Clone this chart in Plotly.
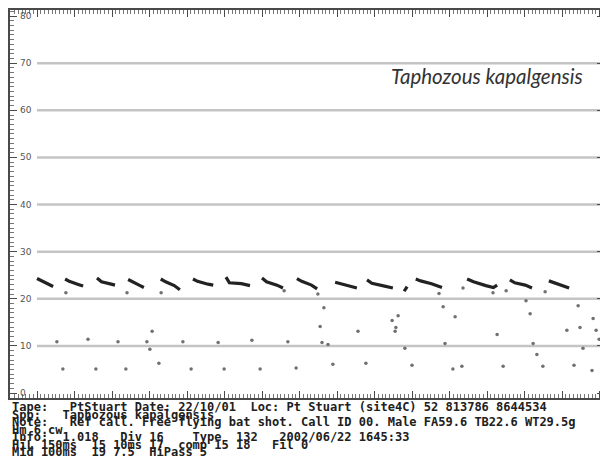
import plotly.graph_objects as go

# Anabat style call display: time (ms, compressed) vs frequency (kHz)

# pulse traces, one list of vertices per call
call_times = [
    [0.0, 1.2, 3.3, 4.3],
    [7.5, 8.6, 11.2, 12.3],
    [16.0, 17.2, 19.8, 20.8],
    [24.3, 25.4, 27.5, 28.5],
    [33.0, 34.3, 36.6, 38.1],
    [41.6, 42.8, 45.6, 47.0],
    [50.4, 51.3, 54.5, 56.8],
    [60.0, 61.2, 64.0, 65.6],
    [69.3, 70.6, 73.2, 74.7],
    [79.5, 81.0, 83.8, 85.3],
    [88.0, 89.3, 92.7, 94.9],
    [97.9, 98.7],
    [101.0, 102.3, 105.2, 108.0],
    [114.7, 116.4, 119.7, 121.7, 122.7],
    [126.1, 127.4, 130.2, 132.0],
    [136.5, 137.8, 140.4, 141.9],
]
call_freqs = [
    [24.3, 23.8, 23.0, 22.6],
    [24.2, 23.7, 23.0, 22.7],
    [24.4, 23.6, 23.1, 22.9],
    [24.1, 23.6, 22.8, 22.4],
    [24.2, 23.6, 22.8, 21.9],
    [24.2, 23.7, 23.1, 22.9],
    [24.6, 23.4, 23.2, 22.8],
    [24.4, 23.6, 22.9, 22.3],
    [24.3, 23.7, 22.9, 22.1],
    [23.5, 23.2, 22.7, 22.3],
    [24.0, 23.3, 22.7, 22.3],
    [21.6, 22.6],
    [24.2, 23.8, 23.2, 22.4],
    [24.2, 23.6, 22.8, 22.4, 22.9],
    [24.0, 23.4, 22.9, 22.3],
    [23.8, 23.4, 22.7, 22.3],
]

# scattered single dots (noise / harmonics)
dot_times = [5.3, 6.9, 7.7, 13.6, 15.7, 21.6, 23.7, 24.0, 29.3, 30.1, 30.7, 32.5,
             33.1, 38.9, 41.1, 48.3, 49.9, 57.3, 59.5, 65.9, 66.9, 69.1, 74.9, 75.5,
             76.0, 76.5, 77.6, 78.9, 85.6, 87.7, 94.7, 95.5, 95.7, 96.3, 98.1, 100.0,
             107.2, 108.3, 108.8, 110.9, 111.5, 113.3, 113.6, 121.6, 122.7, 124.3,
             125.1, 130.4, 131.5, 132.3, 133.3, 134.9, 135.5, 141.3, 143.2, 144.3,
             144.8, 145.6, 148.0, 148.3, 149.1, 149.9]
dot_freqs = [10.9, 5.1, 21.3, 11.4, 5.1, 10.9, 5.1, 21.3, 10.9, 9.3, 13.1, 6.3,
             21.3, 10.9, 5.1, 10.7, 5.1, 11.2, 5.1, 21.7, 10.9, 5.3, 21.0, 14.1,
             10.7, 18.1, 10.3, 6.1, 13.1, 6.3, 15.4, 13.1, 13.9, 16.4, 9.5, 5.9,
             21.1, 18.3, 10.5, 5.1, 16.2, 5.7, 22.3, 21.3, 12.4, 5.7,
             21.7, 19.6, 16.8, 10.5, 8.2, 5.7, 21.5, 13.3, 5.9, 18.5,
             13.9, 9.5, 4.8, 15.8, 13.3, 11.4]

grid_freqs = [10, 20, 30, 40, 50, 60, 70]
y_ticks = [0, 10, 20, 30, 40, 50, 60, 70, 80]

header_lines = [
    "Tape:   PtStuart Date: 22/10/01  Loc: Pt Stuart (site4C) 52 813786 8644534",
    "Spp:   Taphozous kapalgensis",
    "Note:   Ref call. Free flying bat shot. Call ID 00. Male FA59.6 TB22.6 WT29.5g",
    "Hm 6.cw",
    "Info:  1.018   Div 16    Type  132   2002/06/22 1645:33",
    "HiL 150ms  15 10ms 17  comp 15 18   Fil 0",
    "Mid 100ms  19 7.5  HiPass 5",
]
header_y = [407, 414.5, 422, 429.5, 437, 444.5, 452]

x_min, x_max = -7.2, 151.2
y_min, y_max = -1.06, 81.3

color_call = '#222222'
color_dot = '#707070'
color_grid = '#c4c4c4'
color_axis = '#4a4a4a'

# flatten calls into one broken line
cx, cy = [], []
for ts, fs in zip(call_times, call_freqs):
    cx += ts + [None]
    cy += fs + [None]

fig = go.Figure()
fig.add_trace(go.Scatter(
    x=cx, y=cy, mode='lines',
    line=dict(color=color_call, width=3.2),
    hoverinfo='skip', showlegend=False,
))
fig.add_trace(go.Scatter(
    x=dot_times, y=dot_freqs, mode='markers',
    marker=dict(color=color_dot, size=3.5),
    hoverinfo='skip', showlegend=False,
))

for g in grid_freqs:
    fig.add_shape(type='line', xref='x', yref='y', x0=0, x1=x_max, y0=g, y1=g,
                  line=dict(color=color_grid, width=2.5), layer='below')

# y tick labels sit inside the frame, just right of the ruler
for v in y_ticks:
    fig.add_annotation(
        x=8 / 594, y=v, xref='paper', yref='y', xanchor='left', yanchor='middle',
        text=str(v), showarrow=False,
        font=dict(family='DejaVu Sans', size=9, color='#555555'),
    )

fig.add_annotation(
    x=146.2, y=67.3, xref='x', yref='y', xanchor='right', yanchor='middle',
    text='<i>Taphozous kapalgensis</i>', showarrow=False,
    font=dict(family='Lato', size=20.5, color='#333333'),
)

# Anabat header text under the plot (positions in page pixels)
plot_top, plot_bottom = 10, 398
for line, ypx in zip(header_lines, header_y):
    fig.add_annotation(
        x=0, y=(plot_bottom - ypx) / (plot_bottom - plot_top),
        xref='paper', yref='paper', xanchor='left', yanchor='middle',
        text='<b>' + line.replace(' ', '&nbsp;') + '</b>', showarrow=False,
        font=dict(family='DejaVu Sans Mono', size=12, color='#202020'),
    )

fig.update_xaxes(
    range=[x_min, x_max], showgrid=False, zeroline=False, automargin=False,
    showline=True, linecolor=color_axis, linewidth=2, mirror='ticks',
    ticks='inside', tick0=0, dtick=10, ticklen=7, tickcolor=color_axis,
    minor=dict(ticks='inside', dtick=1, ticklen=4, tickcolor='#777777'),
    showticklabels=False,
)
fig.update_yaxes(
    range=[y_min, y_max], showgrid=False, zeroline=False, automargin=False,
    showline=True, linecolor=color_axis, linewidth=2, mirror='ticks',
    ticks='inside', tickvals=y_ticks, ticklen=7, tickcolor=color_axis,
    minor=dict(ticks='inside', dtick=1, ticklen=4, tickcolor='#777777'),
    showticklabels=False,
)

# page body adds an 8px offset, so margins are shifted to compensate
fig.update_layout(
    width=608, height=457,
    margin=dict(l=2, r=12, t=2, b=67),
    plot_bgcolor='white', paper_bgcolor='white',
)

fig.write_html("out.html")
